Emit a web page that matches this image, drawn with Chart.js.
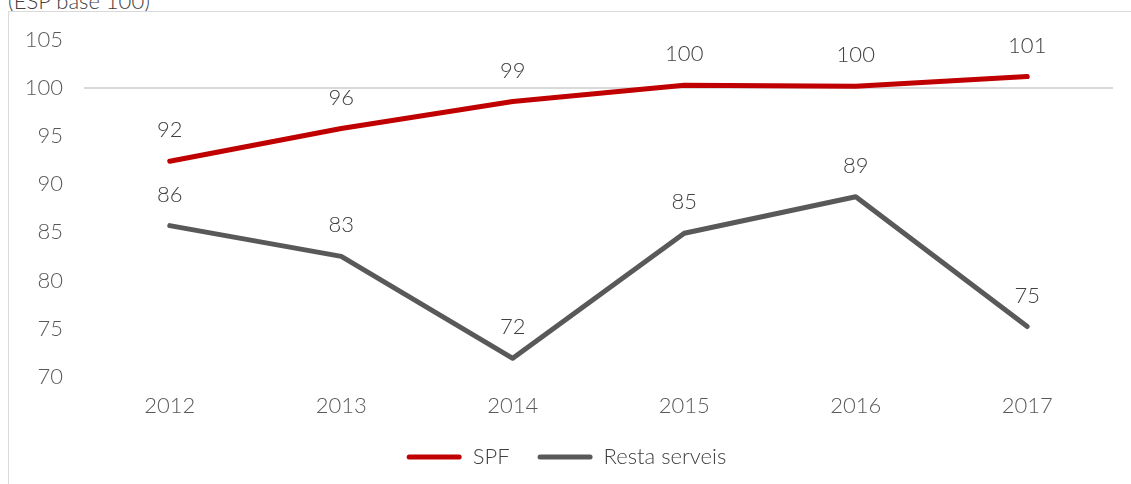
<!DOCTYPE html>
<html>
<head>
<meta charset="utf-8">
<script src="https://cdn.jsdelivr.net/npm/chart.js@4"></script>
<style>
  html, body { margin: 0; padding: 0; background: #fff; overflow: hidden; }
  #title { position: absolute; left: 8px; top: -13px; font: 300 22px Lato, sans-serif; color: #404040; white-space: nowrap; }
  #box { position: absolute; left: 8px; top: 11px; width: 1200px; height: 600px; border: 1px solid #d9d9d9; box-sizing: border-box; }
  #wrap { position: absolute; left: 0; top: 0; width: 1131px; height: 484px; }
</style>
</head>
<body>
<div id="title">(ESP base 100)</div>
<div id="box"></div>
<div id="wrap"><canvas id="chart"></canvas></div>
<script>
const years = ['2012', '2013', '2014', '2015', '2016', '2017'];
const spf = [92.4, 95.8, 98.6, 100.3, 100.2, 101.2];
const restaServeis = [85.7, 82.5, 71.9, 84.9, 88.7, 75.2];
const seriesNames = ['SPF', 'Resta serveis'];
const seriesColors = ['#c00000', '#595959'];

const FONT = 'Lato, sans-serif';

// rounded values written above every point
const valueLabels = {
  id: 'valueLabels',
  afterDatasetsDraw(chart) {
    const ctx = chart.ctx;
    ctx.save();
    ctx.font = '300 22px ' + FONT;
    ctx.fillStyle = '#404040';
    ctx.textAlign = 'center';
    ctx.textBaseline = 'middle';
    chart.data.datasets.forEach((ds, i) => {
      chart.getDatasetMeta(i).data.forEach((pt, j) => {
        ctx.fillText(Math.round(ds.data[j]), pt.x, pt.y - 31);
      });
    });
    ctx.restore();
  }
};

new Chart(document.getElementById('chart'), {
  type: 'line',
  data: {
    labels: years,
    datasets: [
      { label: seriesNames[0], data: spf, borderColor: seriesColors[0], backgroundColor: seriesColors[0] },
      { label: seriesNames[1], data: restaServeis, borderColor: seriesColors[1], backgroundColor: seriesColors[1] }
    ]
  },
  options: {
    responsive: true,
    maintainAspectRatio: false,
    animation: false,
    layout: { padding: { left: 20, right: 18, top: 40, bottom: 6 } },
    elements: {
      line: { borderWidth: 5, borderCapStyle: 'round', borderJoinStyle: 'round', tension: 0 },
      point: { radius: 0, hoverRadius: 0 }
    },
    plugins: {
      tooltip: { enabled: false },
      legend: {
        position: 'bottom',
        labels: {
          font: { family: FONT, size: 22, weight: '300' },
          color: '#404040',
          boxWidth: 55,
          boxHeight: 5,
          padding: 28,
          generateLabels(chart) {
            return chart.data.datasets.map((ds, i) => ({
              text: ds.label,
              fillStyle: ds.borderColor,
              strokeStyle: ds.borderColor,
              lineWidth: 0,
              borderRadius: 2.5,
              fontColor: '#404040',
              datasetIndex: i
            }));
          },
          useBorderRadius: true,
          borderRadius: 2.5
        }
      }
    },
    scales: {
      x: {
        offset: true,
        grid: { display: false, drawTicks: false },
        border: { display: false },
        ticks: { font: { family: FONT, size: 22, weight: '300' }, color: '#595959', padding: 16 },
        afterFit(scale) { scale.height -= 17; }
      },
      y: {
        min: 70,
        max: 105,
        ticks: { stepSize: 5, font: { family: FONT, size: 22, weight: '300' }, color: '#595959', padding: 21 },
        grid: {
          drawTicks: false,
          color: c => (c.tick && c.tick.value === 100 ? '#d9d9d9' : 'rgba(0,0,0,0)'),
          lineWidth: 2
        },
        border: { display: false },
        afterFit(scale) { scale.width = 64; }
      }
    }
  },
  plugins: [valueLabels]
});
</script>
</body>
</html>
